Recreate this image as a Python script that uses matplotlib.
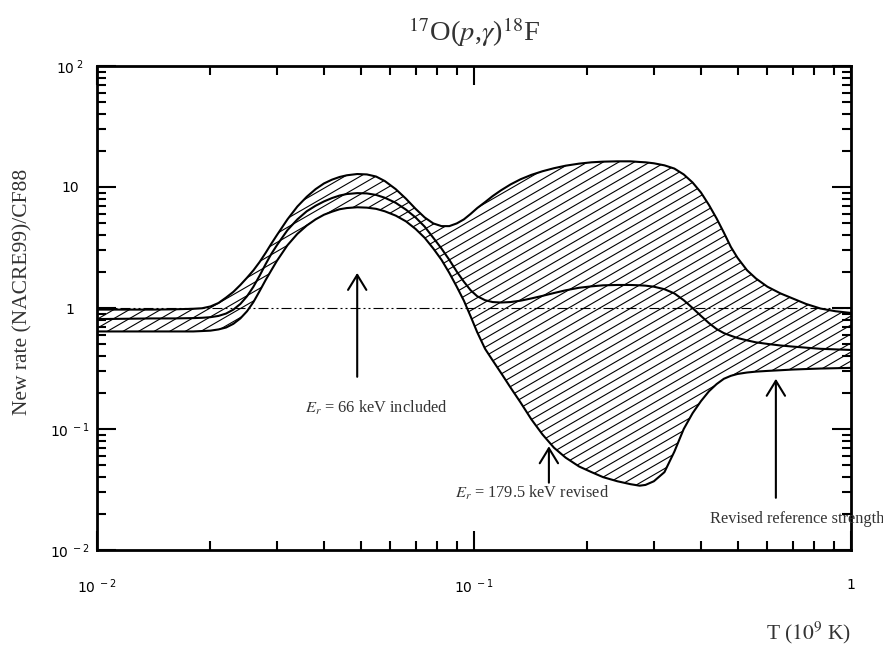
import matplotlib
matplotlib.use('Agg')
import matplotlib.pyplot as plt
import numpy as np
from matplotlib.collections import LineCollection
from matplotlib.ticker import LogLocator, NullFormatter

plt.rcParams['mathtext.fontset'] = 'dejavusans'

# Temperature grid (10^9 K) and ratio curves
T = [0.010, 0.012, 0.014, 0.016, 0.018, 0.019, 0.020, 0.021, 0.022, 0.023,
     0.024, 0.025, 0.026, 0.027, 0.028, 0.029, 0.030, 0.032, 0.034, 0.036,
     0.038, 0.040, 0.042, 0.044, 0.046, 0.049, 0.052, 0.055, 0.058, 0.062,
     0.066, 0.070, 0.074, 0.078, 0.082, 0.086, 0.090, 0.094, 0.098, 0.102,
     0.107, 0.112, 0.118, 0.125, 0.133, 0.142, 0.152, 0.163, 0.175, 0.190,
     0.205, 0.220, 0.240, 0.260, 0.275, 0.285, 0.300, 0.320, 0.340, 0.360,
     0.380, 0.400, 0.420, 0.440, 0.460, 0.480, 0.500, 0.530, 0.560, 0.600,
     0.650, 0.700, 0.760, 0.830, 0.910, 1.000]
upper = [0.97, 0.97, 0.97, 0.975, 0.985, 0.995, 1.03, 1.10, 1.22, 1.36,
         1.55, 1.78, 2.05, 2.4, 2.85, 3.4, 4.0, 5.4, 6.9, 8.3,
         9.6, 10.7, 11.5, 12.1, 12.5, 12.8, 12.7, 12.2, 11.2, 9.6,
         8.0, 6.6, 5.6, 5.0, 4.75, 4.75, 5.0, 5.4, 6.0, 6.7,
         7.5, 8.4, 9.4, 10.5, 11.6, 12.6, 13.5, 14.3, 15.0, 15.6,
         16.0, 16.2, 16.3, 16.3, 16.1, 16.0, 15.7, 15.1, 14.2, 12.7,
         10.9, 9.0, 7.1, 5.5, 4.2, 3.2, 2.6, 2.05, 1.75, 1.5,
         1.32, 1.2, 1.08, 0.99, 0.94, 0.91]
middle = [0.81, 0.815, 0.82, 0.82, 0.825, 0.83, 0.84, 0.86, 0.9, 0.97,
          1.08, 1.25, 1.5, 1.85, 2.3, 2.8, 3.3, 4.4, 5.4, 6.3,
          7.0, 7.6, 8.1, 8.5, 8.75, 8.9, 8.85, 8.6, 8.15, 7.4,
          6.5, 5.6, 4.7, 3.8, 3.1, 2.5, 2.0, 1.65, 1.4, 1.25,
          1.16, 1.12, 1.11, 1.12, 1.15, 1.2, 1.26, 1.33, 1.4, 1.47,
          1.51, 1.54, 1.55, 1.55, 1.54, 1.53, 1.5, 1.43, 1.32, 1.16,
          1.0, 0.86, 0.75, 0.67, 0.62, 0.59, 0.565, 0.54, 0.52, 0.505,
          0.49, 0.48, 0.47, 0.46, 0.455, 0.45]
lower = [0.64, 0.64, 0.64, 0.64, 0.64, 0.645, 0.65, 0.665, 0.69, 0.74,
         0.82, 0.94, 1.12, 1.38, 1.7, 2.05, 2.45, 3.3, 4.1, 4.8,
         5.4, 5.9, 6.25, 6.55, 6.7, 6.8, 6.75, 6.6, 6.3, 5.8,
         5.2, 4.5, 3.8, 3.1, 2.5, 1.95, 1.5, 1.15, 0.85, 0.63,
         0.46, 0.37, 0.29, 0.22, 0.165, 0.12, 0.09, 0.07, 0.058, 0.049,
         0.044, 0.040, 0.037, 0.035, 0.034, 0.0345, 0.037, 0.044, 0.065, 0.1,
         0.135, 0.17, 0.205, 0.235, 0.26, 0.275, 0.285, 0.293, 0.298, 0.302,
         0.306, 0.31, 0.313, 0.316, 0.318, 0.32]

x_ticks = [1e-2, 1e-1, 1]
x_labels = [r'$10^{\ -2}$', r'$10^{\ -1}$', '1']
y_ticks = [1e-2, 1e-1, 1, 10, 100]
y_labels = [r'$10^{\ -2}$', r'$10^{\ -1}$', '1', '10', r'$10^{\ 2}$']

# annotation arrows
arrow_T = [0.049, 0.158, 0.632]
arrow_tip = [1.95, 0.072, 0.26]
arrow_tail = [0.27, 0.036, 0.027]
note_T = [0.055, 0.1425, 0.719]
note_R = [0.149, 0.0296, 0.018]
notes = [r'$E_r$ = 66 keV included', r'$E_r$ = 179.5 keV revised',
         'Revised reference strength']

serif = 'Liberation Serif'
grey = '#333333'

fig = plt.figure(figsize=(8.83, 6.47), dpi=100)
ax = fig.add_axes([97 / 883, 1 - 550 / 647, 754 / 883, 484 / 647])
ax.set_xscale('log')
ax.set_yscale('log')

# band between upper and lower limits, hatched with thin slanted lines
band = ax.fill_between(T, lower, upper, facecolor='none', edgecolor='none')
w_px, h_px = 754, 484
slope = np.tan(np.radians(30)) * w_px / h_px
step = 9.0 / h_px
offs = np.arange(-slope - step, 1 + step, step)
segs = [[(0, c), (1, c + slope)] for c in offs]
hatch = LineCollection(segs, colors='k', linewidths=0.8, transform=ax.transAxes)
ax.add_collection(hatch, autolim=False)
hatch.set_clip_path(band.get_paths()[0], ax.transData)

ax.plot(T, upper, color='k', lw=1.5)
ax.plot(T, middle, color='k', lw=1.5)
ax.plot(T, lower, color='k', lw=1.5)
ax.axhline(1, color='k', lw=0.8, dashes=(9, 2.7, 1.8, 2.7, 1.8, 2.7))

for t, tip, tail in zip(arrow_T, arrow_tip, arrow_tail):
    ax.annotate('', xy=(t, tip), xytext=(t, tail),
                arrowprops=dict(arrowstyle='->,head_length=0.9,head_width=0.55',
                                lw=1.5, color='k', shrinkA=0, shrinkB=0,
                                mutation_scale=12))
for t, r, s in zip(note_T, note_R, notes):
    ax.text(t, r, s, ha='center', va='center', family=serif,
            math_fontfamily='stix', size=11.8, color=grey, clip_on=False)

ax.set_xlim(1e-2, 1)
ax.set_ylim(1e-2, 1e2)
ax.set_xticks(x_ticks, x_labels)
ax.set_yticks(y_ticks, y_labels)
ax.xaxis.set_minor_locator(LogLocator(base=10, subs=np.arange(2, 10)))
ax.yaxis.set_minor_locator(LogLocator(base=10, subs=np.arange(2, 10)))
ax.xaxis.set_minor_formatter(NullFormatter())
ax.yaxis.set_minor_formatter(NullFormatter())
ax.tick_params(which='both', direction='in', top=True, right=True,
               width=1.5, labelsize=10)
ax.tick_params(which='major', length=13.5)
ax.tick_params(which='minor', length=6.5)
ax.tick_params(axis='x', which='major', pad=20)
ax.tick_params(axis='y', which='major', pad=19.5)
for lbl in ax.get_yticklabels():
    lbl.set_ha('center')
for sp in ax.spines.values():
    sp.set_linewidth(2)

ax.set_title(r'$^{17}$O($p$,$\gamma$)$^{18}$F', family=serif,
             math_fontfamily='stix', size=20.5, color=grey, pad=18)
ax.set_ylabel('New rate (NACRE99)/CF88', family=serif, size=15.5, color=grey)
ax.yaxis.set_label_coords(-0.086, 0.533)
ax.set_xlabel(r'T ($10^9$ K)', family=serif, math_fontfamily='stix',
              size=15.5, color=grey, ha='right')
ax.xaxis.set_label_coords(1.0, -0.145)

fig.savefig('out.png', dpi=100)
